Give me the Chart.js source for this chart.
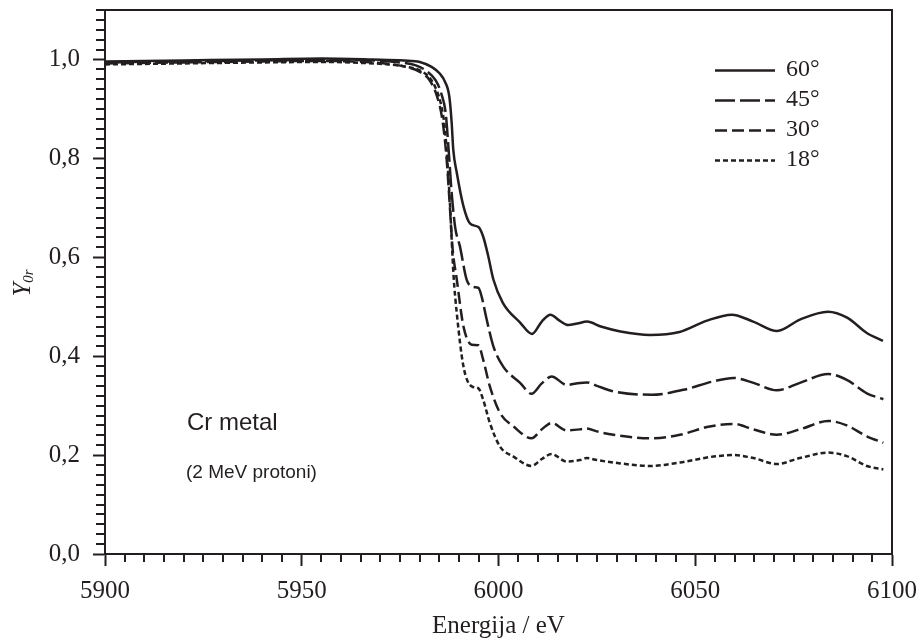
<!DOCTYPE html>
<html>
<head>
<meta charset="utf-8">
<script src="https://cdn.jsdelivr.net/npm/chart.js@4.4.1/dist/chart.umd.min.js"></script>
<style>
  html, body { margin: 0; padding: 0; background: #fff; }
</style>
</head>
<body>
<canvas id="chart" width="920" height="644"></canvas>
<script>
// measured curves, energy in eV and relative yield Y0r
const energy60 = [5900, 5920, 5940, 5955, 5968, 5976, 5980, 5983, 5985, 5986.4, 5987.5, 5988.1, 5988.5, 5989.4, 5991.1, 5992.8, 5994.9, 5996.1, 5997.4, 5998.7, 6001.1, 6005.5, 6008.5, 6011, 6013.2, 6015.5, 6017.7, 6020, 6022.5, 6026, 6031, 6038.5, 6046, 6053, 6059.3, 6064.7, 6070.8, 6076.6, 6083.7, 6088.6, 6093.6, 6097.7];
const yield60 = [0.996, 0.998, 1.0, 1.002, 1.0, 0.998, 0.995, 0.985, 0.972, 0.955, 0.925, 0.872, 0.818, 0.771, 0.703, 0.668, 0.661, 0.642, 0.602, 0.555, 0.508, 0.468, 0.445, 0.47, 0.484, 0.472, 0.463, 0.466, 0.47, 0.46, 0.45, 0.443, 0.449, 0.472, 0.484, 0.47, 0.451, 0.474, 0.49, 0.478, 0.447, 0.431];

const energy45 = [5900, 5920, 5940, 5955, 5968, 5975, 5979, 5982, 5984, 5985.5, 5986.6, 5987.3, 5988.1, 5989, 5990.2, 5991.9, 5993.6, 5994.9, 5995.7, 5997, 5998.7, 6001.2, 6005.5, 6008.4, 6011, 6013.5, 6017.3, 6020.7, 6022.4, 6025, 6029.2, 6038.9, 6047, 6054.6, 6059.7, 6064.8, 6070.7, 6076.6, 6083.8, 6088.5, 6093.6, 6097.8];
const yield45 = [0.994, 0.996, 0.998, 0.999, 0.998, 0.994, 0.988, 0.975, 0.958, 0.93, 0.89, 0.82, 0.73, 0.66, 0.622, 0.555, 0.54, 0.538, 0.521, 0.474, 0.42, 0.379, 0.346, 0.324, 0.345, 0.359, 0.342, 0.346, 0.347, 0.34, 0.329, 0.322, 0.332, 0.349, 0.356, 0.346, 0.331, 0.346, 0.364, 0.352, 0.325, 0.313];

const energy30 = [5900, 5920, 5940, 5955, 5966, 5973, 5977, 5980, 5982.5, 5984.4, 5985.7, 5986.7, 5987.5, 5988.3, 5989.4, 5991.1, 5993.2, 5994.9, 5996.1, 5997.8, 6000.4, 6003.8, 6008.4, 6011, 6013.5, 6017.3, 6020.7, 6022.4, 6025, 6029.2, 6038.5, 6046.1, 6053.7, 6059.7, 6064.8, 6070.7, 6076.6, 6083.8, 6088.5, 6093.6, 6097.8];
const yield30 = [0.992, 0.994, 0.996, 0.997, 0.995, 0.99, 0.984, 0.975, 0.958, 0.925, 0.88, 0.81, 0.72, 0.62, 0.555, 0.46, 0.423, 0.422, 0.393, 0.339, 0.285, 0.258, 0.234, 0.252, 0.265, 0.25, 0.252, 0.254, 0.248, 0.241, 0.234, 0.241, 0.258, 0.263, 0.252, 0.241, 0.252, 0.269, 0.26, 0.238, 0.225];

const energy18 = [5900, 5920, 5940, 5955, 5965, 5972, 5976, 5980, 5982.6, 5984.3, 5985.5, 5986.4, 5987.2, 5987.7, 5988.1, 5988.6, 5989.4, 5991.1, 5993.2, 5994.9, 5996.1, 5997.8, 6000.4, 6003.8, 6008.4, 6011, 6013.5, 6017.3, 6020.7, 6022.4, 6025, 6029.2, 6038.5, 6046.1, 6054.6, 6059.7, 6064.8, 6070.7, 6076.6, 6083.8, 6088.5, 6093.6, 6097.8];
const yield18 = [0.99, 0.992, 0.994, 0.995, 0.993, 0.99, 0.986, 0.978, 0.962, 0.937, 0.905, 0.858, 0.771, 0.703, 0.636, 0.56, 0.487, 0.379, 0.339, 0.335, 0.312, 0.265, 0.217, 0.197, 0.178, 0.192, 0.202, 0.187, 0.19, 0.194, 0.19, 0.185, 0.178, 0.185, 0.197, 0.2, 0.194, 0.182, 0.194, 0.205, 0.198, 0.178, 0.171];

const seriesLabels = ["60°", "45°", "30°", "18°"];
const seriesDash = [[], [20, 5], [12, 5], [5, 3]];
const xTicks = [5900, 5950, 6000, 6050, 6100];
const yTicks = [0, 0.2, 0.4, 0.6, 0.8, 1.0];

const ink = "#231f20";
const serif = "'Liberation Serif', 'Times New Roman', serif";
const sans = "'Liberation Sans', Arial, sans-serif";

const toPoints = (xs, ys) => xs.map((x, i) => ({ x: x, y: ys[i] }));
const allSeries = [
  toPoints(energy60, yield60),
  toPoints(energy45, yield45),
  toPoints(energy30, yield30),
  toPoints(energy18, yield18),
];

// frame, minor ticks, legend, notes and the y title
const extras = {
  id: "extras",
  afterDraw(chart) {
    const ctx = chart.ctx;
    const { left, right, top, bottom } = chart.chartArea;
    const xs = chart.scales.x;
    const ys = chart.scales.y;
    ctx.save();
    ctx.strokeStyle = ink;
    ctx.lineWidth = 2;
    ctx.beginPath();
    ctx.moveTo(left, top);
    ctx.lineTo(right, top);
    ctx.lineTo(right, bottom);
    ctx.stroke();

    // minor ticks
    ctx.beginPath();
    for (let e = 5905; e < 6100; e += 5) {
      if (e % 50 === 0) continue;
      const px = Math.round(xs.getPixelForValue(e));
      ctx.moveTo(px, bottom);
      ctx.lineTo(px, bottom + 8);
    }
    for (let k = 1; k <= 55; k++) {
      if (k % 10 === 0) continue;
      const py = Math.round(ys.getPixelForValue(k * 0.02));
      ctx.moveTo(left, py);
      ctx.lineTo(left - 9, py);
    }
    ctx.stroke();

    // legend
    const legendY = [70.5, 100.5, 130.5, 160.5];
    chart.data.datasets.forEach((ds, i) => {
      ctx.lineWidth = 2.5;
      ctx.setLineDash(ds.borderDash);
      ctx.beginPath();
      ctx.moveTo(715, legendY[i]);
      ctx.lineTo(775, legendY[i]);
      ctx.stroke();
      ctx.setLineDash([]);
      ctx.fillStyle = ink;
      ctx.font = "24px " + serif;
      ctx.textAlign = "left";
      ctx.textBaseline = "alphabetic";
      ctx.fillText(ds.label, 786, legendY[i] + 5);
    });

    // notes
    ctx.font = "24px " + sans;
    ctx.fillText("Cr metal", 187, 430);
    ctx.font = "19px " + sans;
    ctx.fillText("(2 MeV protoni)", 186, 478);

    // y title: italic Y with subscript 0r
    ctx.translate(30, 283);
    ctx.rotate(-Math.PI / 2);
    ctx.font = "italic 25px " + serif;
    const wY = ctx.measureText("Y").width;
    ctx.font = "italic 15px " + serif;
    const wS = ctx.measureText("0r").width;
    const start = -(wY + wS) / 2;
    ctx.font = "italic 25px " + serif;
    ctx.fillText("Y", start, 0);
    ctx.font = "italic 15px " + serif;
    ctx.fillText("0r", start + wY, 3);
    ctx.restore();
  },
};

new Chart(document.getElementById("chart"), {
  type: "line",
  data: {
    datasets: allSeries.map((pts, i) => ({
      label: seriesLabels[i],
      data: pts,
      borderColor: ink,
      borderWidth: 2.5,
      borderDash: seriesDash[i],
      pointRadius: 0,
      fill: false,
      cubicInterpolationMode: "monotone",
    })),
  },
  options: {
    responsive: false,
    animation: false,
    events: [],
    layout: { padding: { top: 10, right: 28, left: 0, bottom: 0 } },
    plugins: {
      legend: { display: false },
      tooltip: { enabled: false },
    },
    scales: {
      x: {
        type: "linear",
        min: 5900,
        max: 6100,
        afterBuildTicks: (axis) => {
          axis.ticks = xTicks.map((v) => ({ value: v }));
        },
        afterFit: (axis) => {
          axis.height = 90;
          axis.paddingLeft = 0;
          axis.paddingRight = 0;
        },
        ticks: {
          color: ink,
          font: { family: serif, size: 25 },
          padding: 10,
          maxRotation: 0,
          callback: (v) => String(v),
        },
        grid: {
          drawOnChartArea: false,
          drawTicks: true,
          tickLength: 12,
          tickWidth: 2,
          tickColor: ink,
        },
        border: { display: true, color: ink, width: 2 },
        title: {
          display: true,
          text: "Energija / eV",
          color: ink,
          font: { family: serif, size: 25 },
          padding: { top: 0, bottom: 3 },
        },
      },
      y: {
        min: 0,
        max: 1.1,
        afterBuildTicks: (axis) => {
          axis.ticks = yTicks.map((v) => ({ value: v }));
        },
        afterFit: (axis) => {
          axis.width = 105;
          axis.paddingTop = 0;
          axis.paddingBottom = 0;
        },
        ticks: {
          color: ink,
          font: { family: serif, size: 25 },
          padding: 13,
          callback: (v) => v.toFixed(1).replace(".", ","),
        },
        grid: {
          drawOnChartArea: false,
          drawTicks: true,
          tickLength: 12,
          tickWidth: 2,
          tickColor: ink,
        },
        border: { display: true, color: ink, width: 2 },
      },
    },
  },
  plugins: [extras],
});
</script>
</body>
</html>
